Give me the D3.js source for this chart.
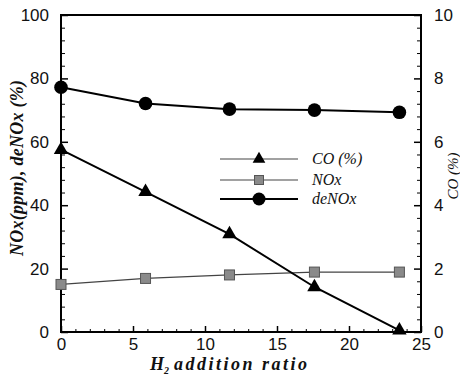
<!DOCTYPE html>
<html><head><meta charset="utf-8">
<script src="https://cdn.jsdelivr.net/npm/d3@7/dist/d3.min.js"></script>
<style>body{margin:0;background:#fff}svg{display:block}</style>
</head><body>
<svg id="c" width="460" height="375"></svg>
<script>
const ratio = [0, 5.87, 11.7, 17.6, 23.5];
const coPct = [5.75, 4.42, 3.09, 1.42, 0.05];
const noxPpm = [15.0, 16.9, 18.0, 18.9, 18.9];
const deNOx = [77.2, 72.1, 70.3, 70.0, 69.3];
const xTicks = [0, 5, 10, 15, 20, 25];
const yLeftTicks = [0, 20, 40, 60, 80, 100];
const yRightTicks = [0, 2, 4, 6, 8, 10];
const legendLabels = ["CO (%)", "NOx", "deNOx"];

const svg = d3.select("#c");
const L = 61, R = 421, T = 15, B = 332;
const x = d3.scaleLinear().domain([0, 25]).range([L, R]);
const yL = d3.scaleLinear().domain([0, 100]).range([B, T]);
const yR = d3.scaleLinear().domain([0, 10]).range([B, T]);

const tickFont = "'Liberation Sans', Arial, sans-serif";
const serif = "'Liberation Serif', 'Times New Roman', serif";

svg.append("rect").attr("x", L).attr("y", T).attr("width", R - L).attr("height", B - T)
  .attr("fill", "none").attr("stroke", "#000").attr("stroke-width", 2);

function styleAxis(g) {
  g.select(".domain").remove();
  g.selectAll("line").attr("stroke", "#000").attr("stroke-width", 1.5);
  g.selectAll("text").attr("font-family", tickFont).attr("font-size", 17).attr("fill", "#111");
}

const gx = svg.append("g").attr("transform", `translate(0,${B})`)
  .call(d3.axisBottom(x).tickValues(xTicks).tickSize(-6).tickPadding(6).tickFormat(d3.format("d")));
styleAxis(gx);
gx.selectAll("text").attr("dy", "0.71em");
svg.append("g").attr("transform", `translate(0,${B})`)
  .call(d3.axisBottom(x).tickValues(d3.range(0, 25.01, 1).filter(v => v % 5 !== 0)).tickSize(-3).tickFormat(""))
  .call(g => { g.select(".domain").remove(); g.selectAll("line").attr("stroke", "#000"); });

const gyl = svg.append("g").attr("transform", `translate(${L},0)`)
  .call(d3.axisLeft(yL).tickValues(yLeftTicks).tickSize(-7).tickPadding(12));
styleAxis(gyl);
svg.append("g").attr("transform", `translate(${L},0)`)
  .call(d3.axisLeft(yL).tickValues(d3.range(0, 100.1, 4).filter(v => v % 20 !== 0)).tickSize(-4).tickFormat(""))
  .call(g => { g.select(".domain").remove(); g.selectAll("line").attr("stroke", "#000"); });

const gyr = svg.append("g").attr("transform", `translate(${R},0)`)
  .call(d3.axisRight(yR).tickValues(yRightTicks).tickSize(-7).tickPadding(13));
styleAxis(gyr);
svg.append("g").attr("transform", `translate(${R},0)`)
  .call(d3.axisRight(yR).tickValues(d3.range(0, 10.01, 0.4).filter(v => Math.abs(v/2 - Math.round(v/2)) > 1e-6)).tickSize(-4).tickFormat(""))
  .call(g => { g.select(".domain").remove(); g.selectAll("line").attr("stroke", "#000"); });

const idx = d3.range(ratio.length);
const tri = d3.symbol().type(d3.symbolTriangle);
const lineNOx = d3.line().x(i => x(ratio[i])).y(i => yL(noxPpm[i]));
const lineCO = d3.line().x(i => x(ratio[i])).y(i => yR(coPct[i]));
const lineDe = d3.line().x(i => x(ratio[i])).y(i => yL(deNOx[i]));

svg.append("path").attr("d", lineNOx(idx)).attr("fill", "none").attr("stroke", "#444").attr("stroke-width", 1.2);
svg.append("path").attr("d", lineCO(idx)).attr("fill", "none").attr("stroke", "#000").attr("stroke-width", 2);
svg.append("path").attr("d", lineDe(idx)).attr("fill", "none").attr("stroke", "#000").attr("stroke-width", 2);

svg.selectAll(".sq").data(idx).join("rect")
  .attr("x", i => x(ratio[i]) - 5).attr("y", i => yL(noxPpm[i]) - 5)
  .attr("width", 10).attr("height", 10).attr("fill", "#8a8a8a").attr("stroke", "#555").attr("stroke-width", 1);
svg.selectAll(".tr").data(idx).join("path")
  .attr("d", tri.size(90)).attr("transform", i => `translate(${x(ratio[i])},${yR(coPct[i])})`).attr("fill", "#000");
svg.selectAll(".ci").data(idx).join("circle")
  .attr("cx", i => x(ratio[i])).attr("cy", i => yL(deNOx[i])).attr("r", 6.8).attr("fill", "#000");

const legY = [159, 180, 199];
const lx0 = 220, lx1 = 298, lm = 259, ltx = 312;
legendLabels.forEach((lab, k) => {
  const y = legY[k];
  svg.append("line").attr("x1", lx0).attr("x2", lx1).attr("y1", y).attr("y2", y)
    .attr("stroke", k === 2 ? "#000" : "#444").attr("stroke-width", k === 2 ? 2 : 1.2);
  if (k === 0) svg.append("path").attr("d", tri.size(70)).attr("transform", `translate(${lm},${y})`).attr("fill", "#000");
  if (k === 1) svg.append("rect").attr("x", lm - 4.5).attr("y", y - 4.5).attr("width", 9).attr("height", 9).attr("fill", "#8a8a8a").attr("stroke", "#555");
  if (k === 2) svg.append("circle").attr("cx", lm).attr("cy", y).attr("r", 6.5).attr("fill", "#000");
  svg.append("text").attr("x", ltx).attr("y", y + 5).text(lab)
    .attr("font-family", serif).attr("font-style", "italic").attr("font-size", 16).attr("fill", "#111");
});

svg.append("text").attr("transform", "translate(23,168) rotate(-90)").attr("text-anchor", "middle")
  .attr("font-family", serif).attr("font-style", "italic").attr("font-weight", "bold").attr("font-size", 18)
  .attr("textLength", 176).attr("lengthAdjust", "spacing")
  .attr("fill", "#111").text("NOx(ppm),  deNOx (%)");
svg.append("text").attr("transform", "translate(458,176) rotate(-90)").attr("text-anchor", "middle")
  .attr("font-family", serif).attr("font-style", "italic").attr("font-size", 15)
  .attr("fill", "#111").text("CO (%)");

function btxt(s, xx, yy, fs) {
  return svg.append("text").attr("x", xx).attr("y", yy)
    .attr("font-family", serif).attr("font-style", "italic").attr("font-weight", "bold")
    .attr("font-size", fs).attr("fill", "#111").text(s);
}
const hT = btxt("H", 150, 370, 18);
const hw = hT.node().getComputedTextLength();
const sT = btxt("2", 150 + hw, 374, 10);
const sw = sT.node().getComputedTextLength();
const startA = 150 + hw + sw + 5;
btxt("addition ratio", startA, 370, 18).attr("textLength", 307 - startA).attr("lengthAdjust", "spacing");
</script>
</body></html>
